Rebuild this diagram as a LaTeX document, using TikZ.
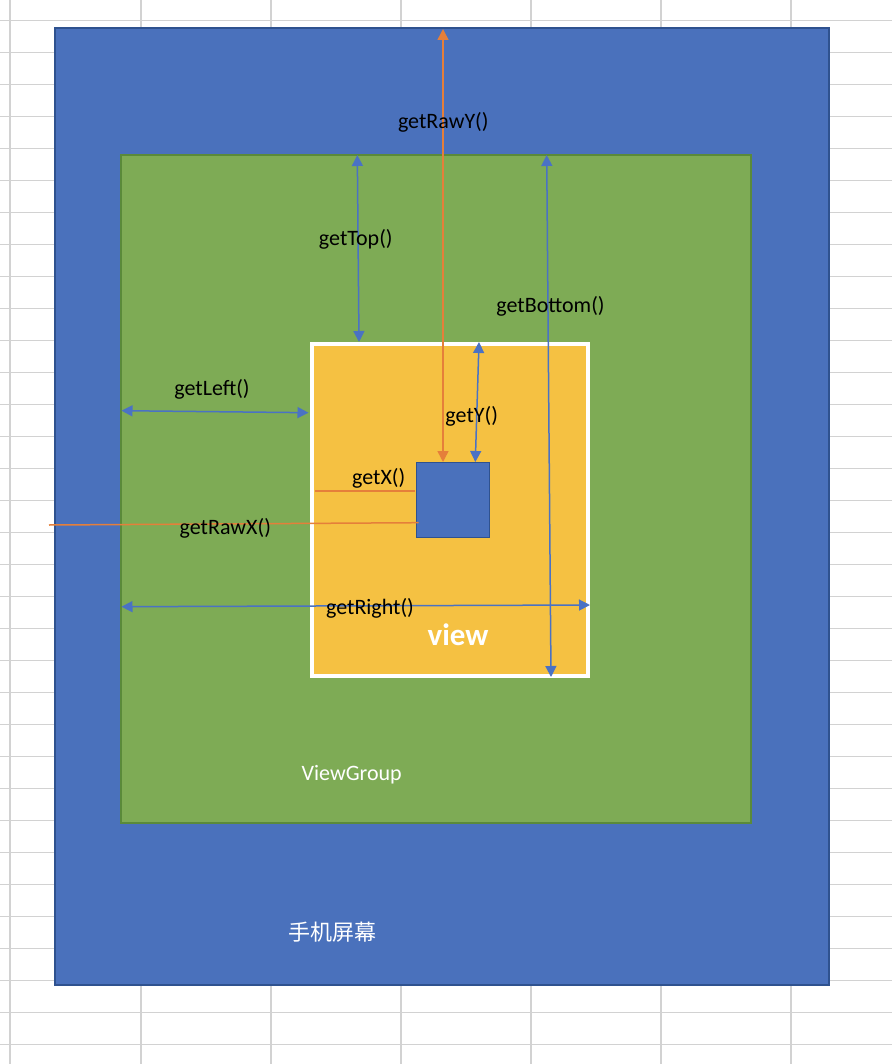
\documentclass[tikz,border=0pt]{standalone}
\usepackage{fontspec}
\setmainfont{Carlito}
\newfontfamily\cjk{Noto Sans CJK SC}
\usetikzlibrary{arrows.meta}
\definecolor{scrblue}{HTML}{4A71BC}
\definecolor{scrborder}{HTML}{2F528F}
\definecolor{vggreen}{HTML}{7EAB55}
\definecolor{vgborder}{HTML}{5A8A3A}
\definecolor{viewyellow}{HTML}{F5C142}
\definecolor{arrblue}{HTML}{4A72C4}
\definecolor{arrorange}{HTML}{E57F3A}
\definecolor{gridgray}{HTML}{D2D2D2}
\tikzset{
  box/.style={rectangle, inner sep=0pt, outer sep=0pt},
  lbl/.style={inner sep=0pt, anchor=base, font=\fontsize{22}{24}\selectfont, text=black},
  wlbl/.style={inner sep=0pt, anchor=base, font=\fontsize{22}{24}\selectfont, text=white},
  bluearr/.style={draw=arrblue, line width=1.5pt, {Triangle[length=11pt,width=11pt]}-{Triangle[length=11pt,width=11pt]}},
  orangearr/.style={draw=arrorange, line width=1.5pt, {Triangle[length=11pt,width=11pt]}-{Triangle[length=11pt,width=11pt]}},
  orangeline/.style={draw=arrorange, line width=1.5pt},
}
\begin{document}
\begin{tikzpicture}[x=1pt,y=-1pt]
\useasboundingbox (0,0) rectangle (892,1064);
\fill[white] (0,0) rectangle (892,1064);
% spreadsheet grid
\foreach \gx in {10,141,271,401,531,661,791} {
  \draw[gridgray, line width=1.5pt] (\gx,0) -- (\gx,1064);
}
\foreach \k in {0,...,32} {
  \draw[gridgray, line width=1.5pt] (0,20.7+32*\k) -- (892,20.7+32*\k);
}
% boxes
\node[box, fill=scrblue, draw=scrborder, line width=1.5pt, minimum width=774pt, minimum height=957pt] (screen) at (442,506.5) {};
\node[box, fill=vggreen, draw=vgborder, line width=1.5pt, minimum width=630pt, minimum height=668pt] (vg) at (436,489) {};
\node[box, fill=viewyellow, draw=white, line width=3.5pt, minimum width=276pt, minimum height=332pt] (view) at (450,510) {};
\node[box, fill=scrblue, draw=scrborder, line width=1.5pt, minimum width=73pt, minimum height=75pt] (sq) at (453,500) {};
% endpoints
\coordinate (rawyA) at (443,29);
\coordinate (rawyB) at (443,462);
\coordinate (topA) at (357.3,155);
\coordinate (topB) at (359,342);
\coordinate (botA) at (546.7,155);
\coordinate (botB) at (551,677);
\coordinate (leftA) at (121.5,410.7);
\coordinate (leftB) at (308.5,412.7);
\coordinate (yA) at (479,342);
\coordinate (yB) at (475.3,462);
\coordinate (xA) at (315,491);
\coordinate (xB) at (415,491);
\coordinate (rawxA) at (49,525);
\coordinate (rawxB) at (418.7,522.7);
\coordinate (rightA) at (121.5,606.7);
\coordinate (rightB) at (590,605);
% connectors
\draw[orangeline] (xA) -- (xB);
\draw[orangeline] (rawxA) -- (rawxB);
\draw[bluearr] (topA) -- (topB);
\draw[bluearr] (botA) -- (botB);
\draw[bluearr] (leftA) -- (leftB);
\draw[bluearr] (yA) -- (yB);
\draw[bluearr] (rightA) -- (rightB);
\draw[orangearr] (rawyA) -- (rawyB);
% labels
\node[lbl] (lrawy) at (443.3,128.5) {getRawY()};
\node[lbl] (ltop) at (355.8,246) {getTop()};
\node[lbl] (lbot) at (550.5,312.3) {getBottom()};
\node[lbl] (lleft) at (212,395) {getLeft()};
\node[lbl] (lrawx) at (225.3,534.3) {getRawX()};
\node[lbl] (ly) at (471.7,422.7) {getY()};
\node[lbl] (lx) at (378.7,484) {getX()};
\node[lbl] (lright) at (370,614) {getRight()};
\node[inner sep=0pt, anchor=base, font=\fontsize{31}{34}\selectfont\bfseries, text=white] (lview) at (458,645) {view};
\node[wlbl] (lvg) at (351.7,780.7) {ViewGroup};
\node[inner sep=0pt, font=\cjk\fontsize{22}{24}\selectfont, text=white] (lscreen) at (332.8,932.5) {手机屏幕};
\end{tikzpicture}
\end{document}
